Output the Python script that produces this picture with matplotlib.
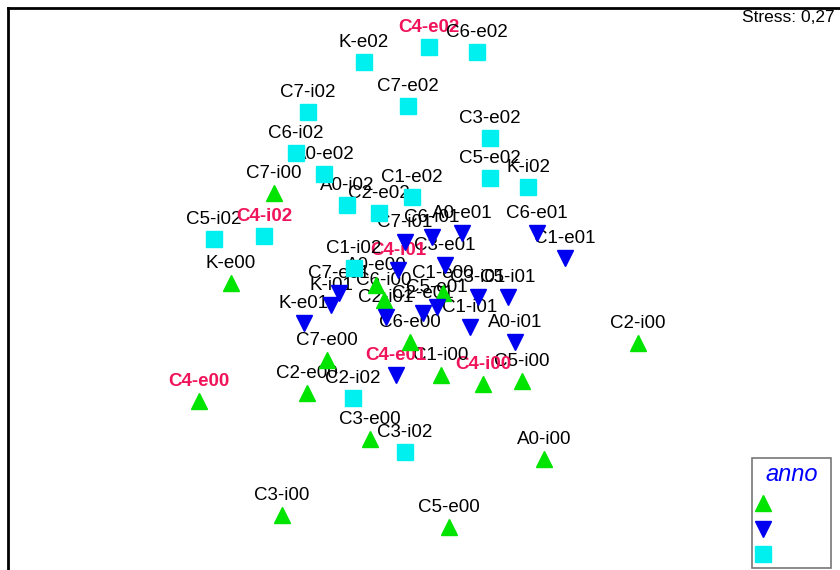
import matplotlib
matplotlib.use('Agg')
import matplotlib.pyplot as plt
from matplotlib.lines import Line2D

plt.rcParams['font.family'] = ['Liberation Sans', 'DejaVu Sans']

# Coordinate MDS (asse y verso il basso)
nomi_00 = ['C7-i00', 'K-e00', 'C4-e00', 'C2-e00', 'C7-e00', 'C3-e00', 'C3-i00', 'C5-e00', 'A0-i00',
           'C2-i00', 'C5-i00', 'C4-i00', 'C1-i00', 'C6-e00', 'C6-i00', 'A0-e00', 'C1-e00']
x_00 = [274, 231, 199, 307, 327, 370, 282, 449, 544, 638, 522, 483, 441, 410, 384, 376, 443]
y_00 = [193, 283, 401, 393, 360, 439, 515, 527, 459, 343, 381, 384, 375, 342, 300, 285, 293]

nomi_01 = ['C6-e01', 'C1-e01', 'A0-e01', 'C6-i01', 'C7-i01', 'C3-e01', 'C4-i01', 'C3-i01', 'C5-i01',
           'C1-i01', 'A0-i01', 'C5-e01', 'C2-e01', 'C2-i01', 'K-i01', 'C7-e01', 'K-e01', 'C4-e01']
x_01 = [537, 565, 462, 432, 405, 445, 398, 478, 508, 470, 515, 437, 423, 386, 331, 339, 304, 396]
y_01 = [233, 258, 233, 237, 242, 265, 270, 297, 297, 327, 342, 307, 313, 317, 305, 293, 323, 375]

nomi_02 = ['K-e02', 'C4-e02', 'C6-e02', 'C7-i02', 'C7-e02', 'C3-e02', 'C6-i02', 'A0-e02', 'C5-e02',
           'K-i02', 'C1-e02', 'A0-i02', 'C2-e02', 'C5-i02', 'C4-i02', 'C1-i02', 'C2-i02', 'C3-i02']
x_02 = [364, 429, 477, 308, 408, 490, 296, 324, 490, 528, 412, 347, 379, 214, 264, 354, 353, 405]
y_02 = [62, 47, 52, 112, 106, 138, 153, 174, 178, 187, 197, 205, 213, 239, 236, 268, 398, 452]

stress = '0,27'

VERDE = '#00e400'
BLU = '#0000f0'
CIANO = '#00f0f0'
ROSSO = '#f0145a'

fig = plt.figure(figsize=(8.4, 5.7), dpi=100)
ax = fig.add_axes([8 / 840, -8 / 570, 1.0, 1.0])
ax.set_xlim(8, 848)
ax.set_ylim(578, 8)
ax.set_xticks([])
ax.set_yticks([])
for s in ax.spines.values():
    s.set_linewidth(2)
    s.set_color('black')

gruppi = [
    (nomi_00, x_00, y_00, '^', VERDE, 12),
    (nomi_01, x_01, y_01, 'v', BLU, 12),
    (nomi_02, x_02, y_02, 's', CIANO, 11),
]

# etichette sopra i marker, le stazioni C4 in rosso grassetto
for nomi, xs, ys, m, c, ms in gruppi:
    for n, xv, yv in zip(nomi, xs, ys):
        rosso = n.startswith('C4')
        ax.annotate(n, (xv, yv), xytext=(0, 10.5), textcoords='offset points',
                    ha='center', va='baseline', fontsize=13.5,
                    color=ROSSO if rosso else 'black',
                    fontweight='bold' if rosso else 'normal', zorder=2)
    ax.plot(xs, ys, linestyle='none', marker=m, color=c, markersize=ms, zorder=3)

fig.text(835 / 840, 1 - 17 / 570, 'Stress: ' + stress, ha='right', va='center', fontsize=12.5)

handles = [Line2D([], [], linestyle='none', marker=m, color=c, markersize=ms)
           for _, _, _, m, c, ms in gruppi]
leg = fig.legend(handles, ['            '] * 3, title='anno', loc='upper left',
                 bbox_to_anchor=(752 / 840, 1 - 458 / 570), borderaxespad=0,
                 frameon=True, fancybox=False,
                 handlelength=0.8, handletextpad=0.3, labelspacing=0.75, borderpad=0.35,
                 fontsize=11)
leg.get_title().set_color('#0000ff')
leg.get_title().set_fontstyle('italic')
leg.get_title().set_fontsize(17)
leg.get_frame().set_edgecolor('#555555')
leg.get_frame().set_linewidth(1.2)

fig.savefig('out.png', dpi=100)
